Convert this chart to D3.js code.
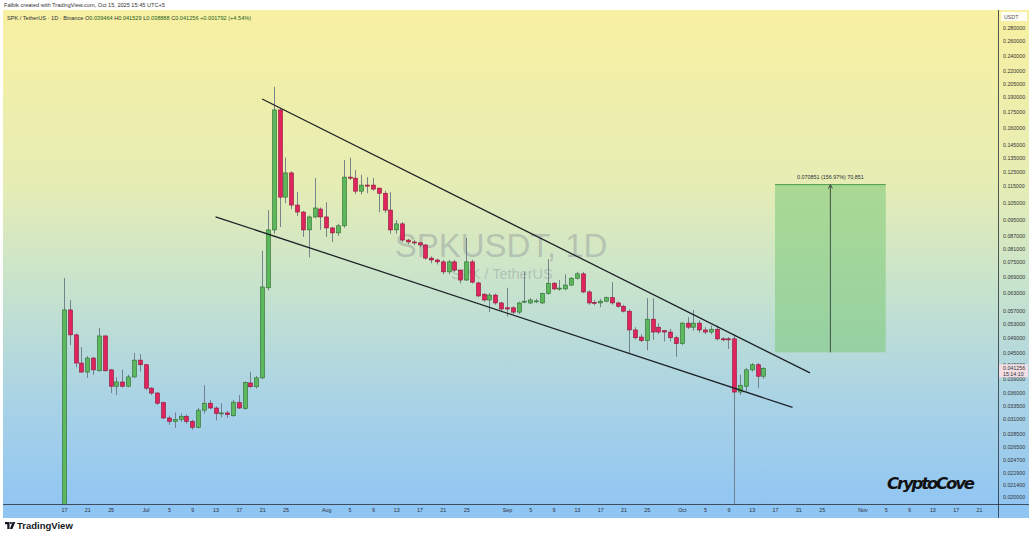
<!DOCTYPE html>
<html><head><meta charset="utf-8">
<script src="https://cdn.jsdelivr.net/npm/d3@7"></script>
<style>
body{margin:0;background:#fff;}
svg{display:block;font-family:"Liberation Sans",Arial,sans-serif;}
</style>
</head><body>
<svg id="c" width="1032" height="540"></svg>
<script>
// ---------------- DATA ----------------
const firstDay = "2025-06-17";
const opens  = [0.0185,0.0573,0.0498,0.0425,0.0404,0.0437,0.0407,0.0495,0.0409,0.0373,0.0382,0.0373,0.0393,0.0432,0.0421,0.0369,0.0359,0.0340,0.0312,0.0306,0.0309,0.0315,0.0306,0.0296,0.0326,0.0339,0.0330,0.0320,0.0321,0.0316,0.0340,0.0329,0.0380,0.0372,0.0391,0.0649,0.0899,0.1766,0.1081,0.1239,0.1034,0.0994,0.0899,0.0967,0.1011,0.0967,0.0909,0.0884,0.0920,0.1210,0.1203,0.1118,0.1157,0.1157,0.1137,0.1105,0.1005,0.0899,0.0930,0.0849,0.0840,0.0836,0.0826,0.0767,0.0759,0.0751,0.0710,0.0751,0.0717,0.0678,0.0751,0.0667,0.0626,0.0606,0.0623,0.0596,0.0580,0.0580,0.0566,0.0599,0.0596,0.0601,0.0596,0.0628,0.0666,0.0645,0.0645,0.0659,0.0685,0.0702,0.0634,0.0598,0.0596,0.0602,0.0614,0.0596,0.0585,0.0569,0.0512,0.0492,0.0482,0.0544,0.0520,0.0510,0.0506,0.0490,0.0474,0.0532,0.0520,0.0532,0.0512,0.0506,0.0514,0.0487,0.0487,0.0487,0.0361,0.0373,0.0409,0.0421,0.039464];
const highs  = [0.0686,0.0606,0.0502,0.0465,0.0442,0.0440,0.0518,0.0497,0.0411,0.0392,0.0409,0.0398,0.0450,0.0447,0.0423,0.0371,0.0361,0.0342,0.0316,0.0322,0.0320,0.0318,0.0309,0.0330,0.0375,0.0345,0.0333,0.0339,0.0325,0.0345,0.0355,0.0383,0.0405,0.0395,0.0800,0.1005,0.2010,0.1780,0.1350,0.1250,0.1112,0.1000,0.0975,0.1204,0.1020,0.1050,0.0915,0.0930,0.1332,0.1350,0.1260,0.1226,0.1210,0.1204,0.1140,0.1120,0.1112,0.0950,0.0940,0.0855,0.0850,0.0840,0.0830,0.0775,0.0765,0.0760,0.0760,0.0760,0.0720,0.0859,0.0760,0.0672,0.0630,0.0630,0.0628,0.0600,0.0649,0.0585,0.0600,0.0710,0.0612,0.0610,0.0632,0.0763,0.0670,0.0678,0.0700,0.0690,0.0710,0.0710,0.0640,0.0605,0.0610,0.0618,0.0670,0.0600,0.0590,0.0575,0.0520,0.0500,0.0612,0.0612,0.0532,0.0512,0.0515,0.0495,0.0535,0.0550,0.0573,0.0540,0.0520,0.0525,0.0525,0.0492,0.0492,0.0500,0.0398,0.0413,0.0425,0.0425,0.041529];
const lows   = [0.0185,0.0470,0.0415,0.0402,0.0391,0.0398,0.0405,0.0405,0.0359,0.0355,0.0370,0.0371,0.0391,0.0405,0.0365,0.0355,0.0336,0.0310,0.0300,0.0295,0.0305,0.0302,0.0292,0.0294,0.0320,0.0328,0.0308,0.0313,0.0312,0.0314,0.0328,0.0327,0.0370,0.0368,0.0388,0.0640,0.0880,0.0914,0.1045,0.1010,0.0972,0.0864,0.0770,0.0960,0.0899,0.0864,0.0840,0.0870,0.0910,0.1190,0.1100,0.1098,0.1105,0.1120,0.0994,0.0990,0.0880,0.0880,0.0840,0.0830,0.0825,0.0815,0.0760,0.0745,0.0740,0.0700,0.0700,0.0710,0.0665,0.0675,0.0665,0.0615,0.0600,0.0566,0.0590,0.0570,0.0552,0.0560,0.0560,0.0595,0.0592,0.0595,0.0592,0.0625,0.0640,0.0638,0.0640,0.0655,0.0680,0.0630,0.0590,0.0588,0.0582,0.0598,0.0590,0.0580,0.0565,0.0449,0.0485,0.0478,0.0457,0.0484,0.0500,0.0480,0.0480,0.0440,0.0470,0.0515,0.0510,0.0505,0.0500,0.0500,0.0482,0.0480,0.0460,0.0185,0.0355,0.0363,0.0405,0.0369,0.038888];
const closes = [0.0573,0.0498,0.0425,0.0404,0.0437,0.0409,0.0495,0.0407,0.0373,0.0382,0.0373,0.0393,0.0432,0.0421,0.0369,0.0359,0.0339,0.0312,0.0306,0.0309,0.0315,0.0306,0.0296,0.0326,0.0339,0.0330,0.0320,0.0321,0.0318,0.0341,0.0330,0.0381,0.0372,0.0391,0.0652,0.0899,0.1766,0.1081,0.1239,0.1034,0.0994,0.0899,0.0967,0.1017,0.0967,0.0909,0.0884,0.0920,0.1210,0.1203,0.1118,0.1157,0.1150,0.1131,0.1105,0.1005,0.0899,0.0930,0.0849,0.0840,0.0838,0.0826,0.0767,0.0759,0.0751,0.0710,0.0751,0.0717,0.0678,0.0751,0.0670,0.0620,0.0606,0.0623,0.0596,0.0576,0.0576,0.0566,0.0596,0.0602,0.0606,0.0603,0.0628,0.0666,0.0645,0.0648,0.0659,0.0685,0.0702,0.0634,0.0596,0.0596,0.0602,0.0614,0.0596,0.0585,0.0569,0.0512,0.0490,0.0482,0.0544,0.0506,0.0506,0.0506,0.0490,0.0474,0.0532,0.0520,0.0532,0.0512,0.0506,0.0514,0.0487,0.0486,0.0485,0.0361,0.0375,0.0409,0.0421,0.03946,0.041256];

const priceTicks = [0.28,0.26,0.24,0.22,0.205,0.19,0.175,0.16,0.145,0.135,0.125,0.115,0.105,0.095,0.087,0.081,0.075,0.069,0.063,0.057,0.053,0.049,0.045,0.042,0.039,0.036,0.0335,0.031,0.0285,0.0265,0.0247,0.0229,0.0214,0.020];
const dateTicks = ["2025-06-17","2025-06-21","2025-06-25","2025-07-01","2025-07-05","2025-07-09","2025-07-13","2025-07-17","2025-07-21","2025-07-25","2025-08-01","2025-08-05","2025-08-09","2025-08-13","2025-08-17","2025-08-21","2025-08-25","2025-09-01","2025-09-05","2025-09-09","2025-09-13","2025-09-17","2025-09-21","2025-09-25","2025-10-01","2025-10-05","2025-10-09","2025-10-13","2025-10-17","2025-10-21","2025-10-25","2025-11-01","2025-11-05","2025-11-09","2025-11-13","2025-11-17","2025-11-21"];
const monthNames = ["Jan","Feb","Mar","Apr","May","Jun","Jul","Aug","Sep","Oct","Nov","Dec"];

const upperTrend = [["2025-07-21",0.1878],["2025-10-23",0.0402]];
const lowerTrend = [["2025-07-13",0.0968],["2025-10-20",0.0331]];
const targetBox = {from:"2025-10-17", to:"2025-11-05", low:0.04514, high:0.115991};
const targetLabel = "0.070851 (156.97%) 70,851";
const lastPrice = "0.041256", countdown = "15:14:10";
const headerTop = "Falbik created with TradingView.com, Oct 15, 2025 15:45 UTC+5";
const headerSym = "SPK / TetherUS · 1D · Binance";
const ohlcText = [["O","0.039464"],["H","0.041529"],["L","0.038888"],["C","0.041256"],["","+0.001792 (+4.54%)"]];

// ---------------- BUILD ----------------
const pd = d3.utcParse("%Y-%m-%d");
const d0 = pd(firstDay);
const candles = opens.map((o,i)=>({date:d3.utcDay.offset(d0,i),o,h:highs[i],l:lows[i],c:closes[i]}));

const svg = d3.select("#c");
const W=1032, plotL=3, plotR=998, plotT=10, plotB=504, axisB=518;

const x = d3.scaleUtc().domain([pd("2025-06-17"),pd("2025-11-21")]).range([64,979]);
const y = d3.scaleLog().domain([0.02,0.28]).range([497,28]);

const defs = svg.append("defs");
const g = defs.append("linearGradient").attr("id","bg").attr("x1",0).attr("y1",0).attr("x2",0).attr("y2",1);
[[0,"#f8f0a2"],[0.35,"#e6edb4"],[0.55,"#c9e4cc"],[0.8,"#a8d2e6"],[1,"#92c6f2"]].forEach(s=>g.append("stop").attr("offset",s[0]).attr("stop-color",s[1]));
defs.append("clipPath").attr("id","clip").append("rect").attr("x",plotL).attr("y",plotT).attr("width",plotR-plotL).attr("height",plotB-plotT);

svg.append("rect").attr("x",0).attr("y",0).attr("width",W).attr("height",540).attr("fill","#fff");
svg.append("rect").attr("x",plotL).attr("y",plotT).attr("width",1029-plotL).attr("height",plotB-plotT).attr("fill","url(#bg)");
// x-axis band
svg.append("rect").attr("x",plotL).attr("y",plotB).attr("width",1029-plotL).attr("height",axisB-plotB).attr("fill","#8fc5f3");
svg.append("line").attr("x1",plotL).attr("x2",1029).attr("y1",plotB+0.5).attr("y2",plotB+0.5).attr("stroke","#2a2e39").attr("stroke-width",0.8);
svg.append("line").attr("x1",plotR+0.5).attr("x2",plotR+0.5).attr("y1",plotT).attr("y2",axisB).attr("stroke","#2a2e39").attr("stroke-width",0.8);

// headers
svg.append("text").attr("x",4).attr("y",7).attr("font-size",5.6).attr("fill","#333").text(headerTop);
const hs = svg.append("text").attr("x",7).attr("y",19.5).attr("font-size",5.6).attr("fill","#2a2e39");
hs.append("tspan").text(headerSym+"  ");
ohlcText.forEach(([k,v])=>{hs.append("tspan").text(" "+k); hs.append("tspan").attr("fill","#1b5e20").text(v);});

// watermark
svg.append("text").attr("x",501).attr("y",257).attr("text-anchor","middle").attr("font-size",33).attr("fill","#8a8f98").attr("fill-opacity",0.42).text("SPKUSDT, 1D");
svg.append("text").attr("x",502).attr("y",279).attr("text-anchor","middle").attr("font-size",14.5).attr("fill","#8a8f98").attr("fill-opacity",0.42).text("SPK / TetherUS");

const plot = svg.append("g").attr("clip-path","url(#clip)");

// target box
const bx0 = x(pd(targetBox.from)), bx1 = x(pd(targetBox.to));
const by0 = y(targetBox.high), by1 = y(targetBox.low);
plot.append("rect").attr("x",bx0).attr("y",by0).attr("width",bx1-bx0).attr("height",by1-by0).attr("fill","#7fc97a").attr("fill-opacity",0.58);
plot.append("line").attr("x1",bx0).attr("x2",bx1).attr("y1",by0).attr("y2",by0).attr("stroke","#4a9a4a").attr("stroke-width",1);
const bxm = (bx0+bx1)/2;
plot.append("line").attr("x1",bxm).attr("x2",bxm).attr("y1",by1).attr("y2",by0+1).attr("stroke","#2a2e39").attr("stroke-width",0.8);
plot.append("path").attr("d",`M${bxm-2},${by0+4}L${bxm},${by0}L${bxm+2},${by0+4}`).attr("fill","none").attr("stroke","#2a2e39").attr("stroke-width",0.8);
plot.append("text").attr("x",bxm).attr("y",by0-6).attr("text-anchor","middle").attr("font-size",5.4).attr("fill","#2a2e39").text(targetLabel);

// candles
const up = d=>d.c>=d.o;
const cg = plot.append("g");
cg.selectAll("line.w").data(candles).join("line").attr("class","w")
  .attr("x1",d=>Math.round(x(d.date))+0.5).attr("x2",d=>Math.round(x(d.date))+0.5)
  .attr("y1",d=>y(d.h)).attr("y2",d=>y(d.l)).attr("stroke","#6b7785").attr("stroke-width",0.9);
const bw = 4;
cg.selectAll("rect.b").data(candles).join("rect").attr("class","b")
  .attr("x",d=>Math.round(x(d.date))-bw/2+0.5).attr("width",bw)
  .attr("y",d=>y(Math.max(d.o,d.c))).attr("height",d=>Math.max(1,Math.abs(y(d.o)-y(d.c))))
  .attr("fill",d=>up(d)?"#5cb85c":"#e0245e").attr("stroke",d=>up(d)?"#2e6b2e":"#8e1538").attr("stroke-width",0.6);

// trend lines
[upperTrend,lowerTrend].forEach(t=>{
  plot.append("line").attr("x1",x(pd(t[0][0]))).attr("y1",y(t[0][1])).attr("x2",x(pd(t[1][0]))).attr("y2",y(t[1][1]))
    .attr("stroke","#1e2228").attr("stroke-width",1.3);
});

// y axis
const ya = svg.append("g").attr("transform",`translate(${plotR},0)`)
  .call(d3.axisRight(y).tickValues(priceTicks).tickFormat(d3.format(".6f")).tickSize(0).tickPadding(5));
ya.select(".domain").remove();
ya.selectAll("text").attr("font-size",5.3).attr("fill","#333").attr("font-family","Liberation Sans, Arial");
// USDT label
svg.append("rect").attr("x",1001).attr("y",12).attr("width",26).attr("height",9).attr("fill","#fff").attr("fill-opacity",0.9);
svg.append("text").attr("x",1004).attr("y",18.5).attr("font-size",5.3).attr("fill","#555").text("USDT");
// last price label
const ly = y(closes[closes.length-1]);
svg.append("rect").attr("x",plotR+1).attr("y",ly-4).attr("width",29).attr("height",13).attr("fill","#f3dfe3");
svg.append("text").attr("x",plotR+5).attr("y",ly+2).attr("font-size",5.3).attr("fill","#2a2e39").text(lastPrice);
svg.append("text").attr("x",plotR+5).attr("y",ly+7.5).attr("font-size",5.3).attr("fill","#2a2e39").text(countdown);

// x axis
const xa = svg.append("g").attr("transform",`translate(0,${plotB})`)
  .call(d3.axisBottom(x).tickValues(dateTicks.map(pd)).tickSize(0).tickPadding(4)
  .tickFormat(d=>d.getUTCDate()===1?monthNames[d.getUTCMonth()]:String(d.getUTCDate())));
xa.select(".domain").remove();
xa.selectAll("text").attr("font-size",5.3).attr("fill","#2a2e39").attr("font-family","Liberation Sans, Arial");

// signature
svg.append("text").attr("x",887).attr("y",489).attr("font-size",16.5).attr("font-weight","bold").attr("font-style","italic")
  .attr("font-family","DejaVu Sans, sans-serif").attr("fill","#111").attr("textLength",88).text("CryptoCove");

// TradingView logo
const logo = svg.append("g").attr("transform","translate(5,522)").attr("fill","#131722");
logo.append("path").attr("d","M0,0H4.5V7H2.3V2.2H0Z");
logo.append("circle").attr("cx",5.8).attr("cy",1.1).attr("r",1.1);
logo.append("path").attr("d","M7.6,0H10.3L7.4,7H4.8Z");
svg.append("text").attr("x",17).attr("y",529).attr("font-size",9.5).attr("font-weight","bold").attr("fill","#131722").text("TradingView");
</script>
</body></html>
